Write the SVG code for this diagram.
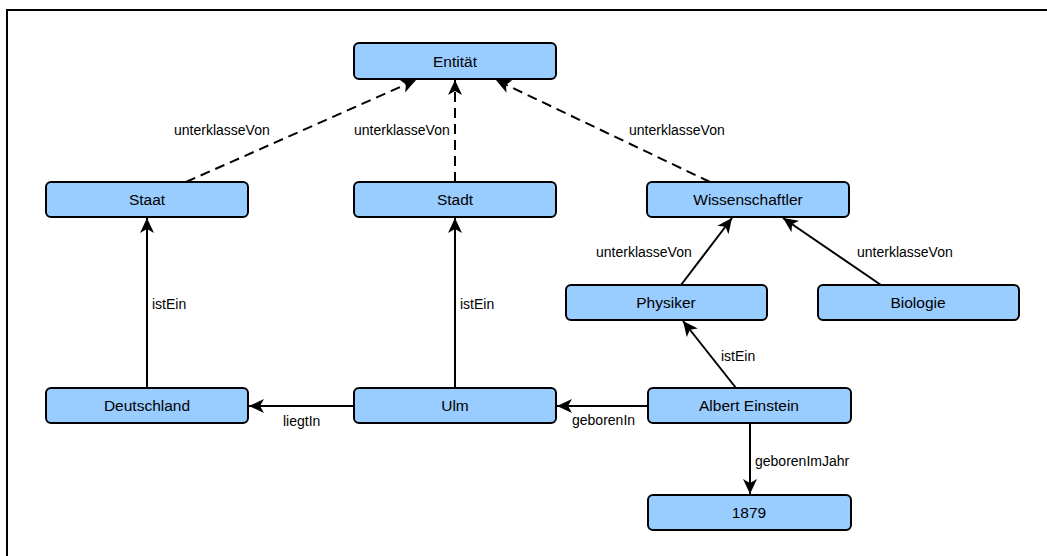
<svg xmlns="http://www.w3.org/2000/svg" width="1047" height="556" viewBox="0 0 1047 556">
<defs>
<marker id="arr" markerUnits="userSpaceOnUse" markerWidth="16" markerHeight="14" refX="15" refY="7" orient="auto" viewBox="0 0 16 14">
<path d="M0,0 L15,7 L0,14 L4,7 Z" fill="#000"/>
</marker>
</defs>
<style>
.node rect{fill:#99ccff;stroke:#000;stroke-width:2}
.node text{font-family:"Liberation Sans",Arial,sans-serif;font-size:15.5px;fill:#000;text-anchor:middle}
.edge{stroke:#000;stroke-width:2;fill:none;marker-end:url(#arr)}
.dash{stroke-dasharray:10,6}
.lbl{font-family:"Liberation Sans",Arial,sans-serif;font-size:14px;fill:#000}
</style>
<rect width="1047" height="556" fill="#fff"/>
<path d="M7,556 L7,10 L1047,10" fill="none" stroke="#000" stroke-width="2"/>
<g id="connectors">
<line class="edge dash" x1="186" y1="182" x2="416" y2="80"/>
<line class="edge dash" x1="455" y1="182" x2="455" y2="80"/>
<line class="edge dash" x1="710" y1="182" x2="496" y2="80"/>
<line class="edge" x1="147" y1="388" x2="147" y2="218"/>
<line class="edge" x1="455" y1="388" x2="455" y2="218"/>
<line class="edge" x1="681" y1="285" x2="732" y2="218"/>
<line class="edge" x1="881" y1="285" x2="783" y2="218"/>
<line class="edge" x1="736" y1="388" x2="683" y2="321"/>
<line class="edge" x1="354" y1="406" x2="249" y2="406"/>
<line class="edge" x1="648" y1="406" x2="557" y2="406"/>
<line class="edge" x1="750" y1="423" x2="750" y2="494"/>
<text class="lbl" x="174" y="135">unterklasseVon</text>
<text class="lbl" x="354" y="135">unterklasseVon</text>
<text class="lbl" x="629" y="135">unterklasseVon</text>
<text class="lbl" x="152" y="309">istEin</text>
<text class="lbl" x="460" y="309">istEin</text>
<text class="lbl" x="596" y="257">unterklasseVon</text>
<text class="lbl" x="857" y="257">unterklasseVon</text>
<text class="lbl" x="721" y="361">istEin</text>
<text class="lbl" x="283" y="426">liegtIn</text>
<text class="lbl" x="572" y="425">geborenIn</text>
<text class="lbl" x="755" y="466">geborenImJahr</text>
</g>
<g id="n-entitaet" class="node"><rect x="354" y="43" width="202" height="36" rx="5"/><text x="455" y="66.5">Entität</text></g>
<g id="n-staat" class="node"><rect x="46" y="182" width="202" height="35" rx="5"/><text x="147" y="205">Staat</text></g>
<g id="n-stadt" class="node"><rect x="354" y="182" width="202" height="35" rx="5"/><text x="455" y="205">Stadt</text></g>
<g id="n-wissenschaftler" class="node"><rect x="647" y="182" width="202" height="35" rx="5"/><text x="748" y="205">Wissenschaftler</text></g>
<g id="n-physiker" class="node"><rect x="566" y="285" width="201" height="35" rx="5"/><text x="666" y="308">Physiker</text></g>
<g id="n-biologie" class="node"><rect x="818" y="285" width="201" height="35" rx="5"/><text x="918" y="308">Biologie</text></g>
<g id="n-deutschland" class="node"><rect x="46" y="388" width="202" height="35" rx="5"/><text x="147" y="411">Deutschland</text></g>
<g id="n-ulm" class="node"><rect x="354" y="388" width="202" height="35" rx="5"/><text x="455" y="411">Ulm</text></g>
<g id="n-einstein" class="node"><rect x="648" y="388" width="203" height="35" rx="5"/><text x="749" y="411">Albert Einstein</text></g>
<g id="n-1879" class="node"><rect x="648" y="495" width="203" height="35" rx="5"/><text x="749" y="518">1879</text></g>
</svg>
